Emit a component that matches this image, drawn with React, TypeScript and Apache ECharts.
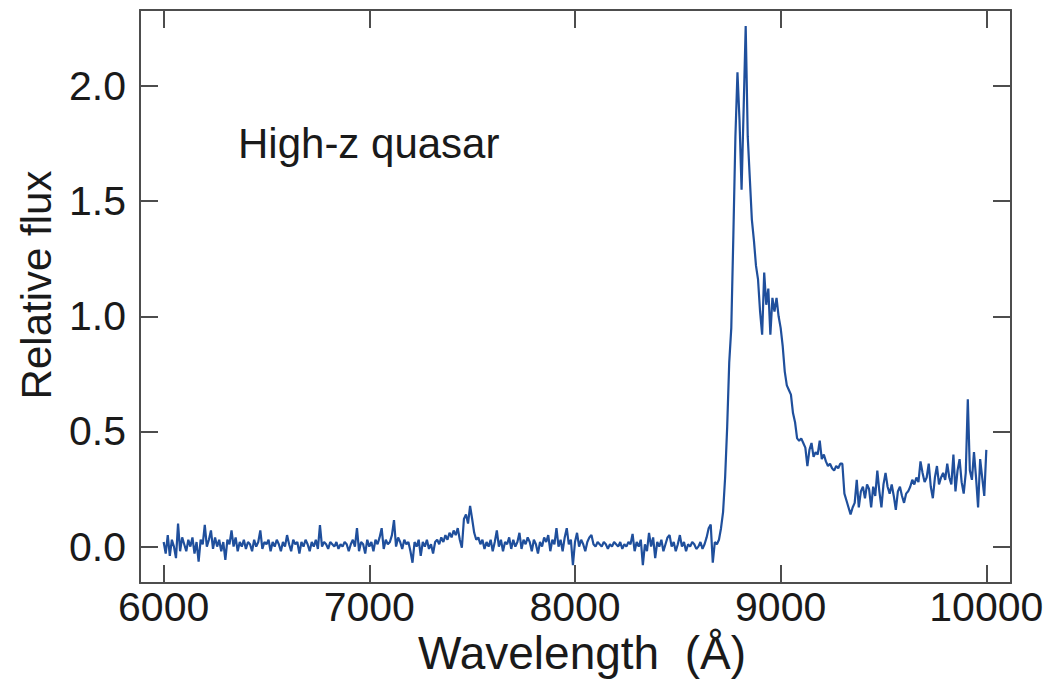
import React, { useEffect, useRef } from "react";
import * as echarts from "echarts";

// Wavelength grid (Å): first sample and spacing
const WAVE_START = 6000;
const WAVE_STEP = 10;

// Relative flux, one value per 10 Å from 6000 Å to 10000 Å
const FLUX_6000_6990 = [
  0.02, -0.03, 0.05, -0.04, 0.03, 0.0, -0.05, 0.1, -0.02, 0.04,
  0.01, -0.02, 0.03, 0.0, 0.04, -0.03, 0.02, -0.065, 0.03, 0.01,
  0.094, 0.0, 0.03, 0.07, -0.01, 0.04, 0.0, 0.03, -0.02, 0.02,
  -0.058, 0.03, 0.01, 0.07, 0.0, 0.04, -0.02, 0.02, 0.0, 0.03,
  -0.01, 0.02, 0.01, -0.02, 0.03, 0.0, 0.02, 0.07, -0.01, 0.02,
  0.01, 0.03, -0.02, 0.02, 0.0, 0.03, 0.01, -0.02, 0.02, 0.0,
  0.05, 0.01, -0.02, 0.03, 0.01, 0.02, -0.03, 0.02, 0.0, 0.03,
  0.01, -0.02, 0.02, 0.0, 0.03, -0.01, 0.093, 0.0, 0.02, 0.01,
  -0.01, 0.02, 0.01, 0.0, 0.02, -0.01, 0.01, 0.0, 0.02, 0.01,
  -0.02, 0.01, 0.03, 0.0, 0.08, -0.02, 0.02, 0.01, -0.03, 0.03,
];
const FLUX_7000_7990 = [
  0.0, 0.02, -0.02, 0.03, 0.01, 0.04, 0.08, -0.01, 0.03, 0.01,
  0.02, 0.05, 0.115, 0.0, 0.04, 0.02, -0.01, 0.03, 0.01, 0.02,
  -0.02, -0.07, 0.02, 0.0, 0.03, -0.04, 0.02, 0.0, 0.03, -0.01,
  0.01, -0.03, 0.02, 0.03, 0.01, 0.04, 0.02, 0.05, 0.03, 0.06,
  0.04, 0.07, 0.05, 0.08, 0.03, -0.005, 0.12, 0.14, 0.1, 0.177,
  0.12, 0.06, 0.03, 0.04, 0.01, 0.03, -0.01, 0.02, 0.0, 0.03,
  -0.02, 0.02, 0.07, 0.0, 0.03, -0.02, 0.02, 0.01, 0.04, -0.01,
  0.03, 0.0, 0.02, 0.06, -0.01, 0.03, 0.01, 0.04, 0.02, -0.02,
  0.03, 0.01, -0.03, 0.02, 0.0, 0.04, 0.02, 0.05, -0.02, 0.03,
  0.01, 0.08, 0.0, 0.03, -0.02, 0.04, 0.08, 0.01, 0.03, -0.08,
];
const FLUX_8000_8690 = [
  0.02, 0.06, 0.0, 0.03, 0.01, -0.02, 0.02, 0.04, 0.05, 0.01,
  0.0, 0.02, 0.01, 0.0, 0.02, 0.01, -0.01, 0.01, 0.0, 0.02,
  0.01, 0.0, 0.02, -0.01, 0.01, 0.0, 0.02, 0.01, 0.055, -0.02,
  0.02, 0.0, 0.03, -0.08, 0.01, -0.02, 0.06, 0.0, 0.04, -0.05,
  0.02, 0.0, 0.03, -0.02, 0.01, 0.04, 0.05, 0.0, 0.02, -0.02,
  0.01, 0.05, 0.0, 0.02, -0.02, 0.01, 0.0, 0.02, 0.01, -0.01,
  0.0, 0.02, -0.01, 0.01, 0.04, 0.08, 0.096, -0.07, 0.02, 0.01,
];
const FLUX_8700_10000 = [
  0.03, 0.08, 0.15, 0.3, 0.52, 0.8, 0.95, 1.35, 1.78, 2.06,
  1.85, 1.55, 1.9, 2.26, 1.78, 1.6, 1.42, 1.33, 1.22, 1.16,
  1.02, 0.92, 1.19, 1.05, 1.12, 0.92, 1.08, 1.02, 1.08, 1.0,
  0.95, 0.87, 0.76, 0.7, 0.68, 0.66, 0.58, 0.54, 0.47, 0.46,
  0.47, 0.45, 0.43, 0.35, 0.42, 0.45, 0.39, 0.41, 0.4, 0.46,
  0.38, 0.4, 0.37, 0.35, 0.36, 0.34, 0.33, 0.35, 0.34, 0.36,
  0.36, 0.23, 0.2, 0.17, 0.14, 0.17, 0.19, 0.29, 0.17, 0.24,
  0.26, 0.21, 0.27, 0.25, 0.17, 0.26, 0.22, 0.33, 0.24, 0.17,
  0.27, 0.32, 0.26, 0.23, 0.27, 0.22, 0.16, 0.24, 0.26, 0.22,
  0.19, 0.23, 0.24, 0.26, 0.29, 0.27, 0.3, 0.28, 0.37, 0.32,
  0.28, 0.3, 0.36, 0.26, 0.21, 0.3, 0.35, 0.27, 0.3, 0.32,
  0.29, 0.36, 0.3, 0.27, 0.4, 0.24, 0.33, 0.38, 0.28, 0.23,
  0.32, 0.64, 0.33, 0.29, 0.41, 0.3, 0.17, 0.38, 0.3, 0.22,
  0.42,
];

const X_TITLE = "Wavelength  (Å)";
const Y_TITLE = "Relative flux";
const LABEL_TEXT = "High-z quasar";

const FONT = "'Liberation Sans', Arial, Helvetica, sans-serif";
const AXIS_COLOR = "#4d4d4d";
const LINE_COLOR = "#1f4f9c";

export default function App() {
  const ref = useRef<HTMLDivElement>(null);

  useEffect(() => {
    if (!ref.current) return;
    const chart = echarts.init(ref.current, null, { renderer: "svg" });
    const flux = [...FLUX_6000_6990, ...FLUX_7000_7990, ...FLUX_8000_8690, ...FLUX_8700_10000];
    const data = flux.map((f, i) => [WAVE_START + i * WAVE_STEP, f]);

    const axisLine = { show: true, onZero: false, lineStyle: { color: AXIS_COLOR, width: 2 } };
    const axisTick = { show: true, inside: true, length: 18, lineStyle: { color: AXIS_COLOR, width: 2 } };
    const xCommon = {
      type: "value" as const,
      min: 5885,
      max: 10120,
      minInterval: 1000,
      maxInterval: 1000,
      splitLine: { show: false },
      axisLine,
      axisTick,
    };
    const yCommon = {
      type: "value" as const,
      min: -0.158,
      max: 2.33,
      minInterval: 0.5,
      maxInterval: 0.5,
      splitLine: { show: false },
      axisLine,
      axisTick,
    };

    chart.setOption({
      animation: false,
      backgroundColor: "#ffffff",
      grid: { left: 140, right: 46, top: 10, bottom: 97, containLabel: false },
      xAxis: [
        {
          ...xCommon,
          position: "bottom",
          axisLabel: {
            show: true,
            margin: 3,
            fontSize: 41,
            fontFamily: FONT,
            color: "#1a1a1a",
            showMinLabel: false,
            showMaxLabel: false,
            formatter: (v: number) => String(v),
          },
        },
        { ...xCommon, position: "top", axisLabel: { show: false } },
      ],
      yAxis: [
        {
          ...yCommon,
          position: "left",
          axisLabel: {
            show: true,
            margin: 14,
            fontSize: 41,
            fontFamily: FONT,
            color: "#1a1a1a",
            showMinLabel: false,
            showMaxLabel: false,
            formatter: (v: number) => v.toFixed(1),
          },
        },
        { ...yCommon, position: "right", axisLabel: { show: false } },
      ],
      graphic: [
        {
          type: "text",
          x: 582,
          y: 653,
          style: {
            text: X_TITLE,
            fontSize: 46,
            fontFamily: FONT,
            fill: "#1a1a1a",
            align: "center",
            verticalAlign: "middle",
          },
        },
        {
          type: "text",
          x: 36,
          y: 285,
          rotation: Math.PI / 2,
          style: {
            text: Y_TITLE,
            fontSize: 42,
            fontFamily: FONT,
            fill: "#1a1a1a",
            align: "center",
            verticalAlign: "middle",
          },
        },
        {
          type: "text",
          x: 238,
          y: 143,
          style: {
            text: LABEL_TEXT,
            fontSize: 42,
            fontFamily: FONT,
            fill: "#1a1a1a",
            align: "left",
            verticalAlign: "middle",
          },
        },
      ],
      series: [
        {
          type: "line",
          xAxisIndex: 0,
          yAxisIndex: 0,
          data,
          showSymbol: false,
          symbol: "none",
          lineStyle: { color: LINE_COLOR, width: 2.2 },
          itemStyle: { color: LINE_COLOR },
        },
      ],
    });

    return () => chart.dispose();
  }, []);

  return (
    <div
      ref={ref}
      style={{ position: "fixed", left: 0, top: 0, width: 1057, height: 680, background: "#fff" }}
    />
  );
}
